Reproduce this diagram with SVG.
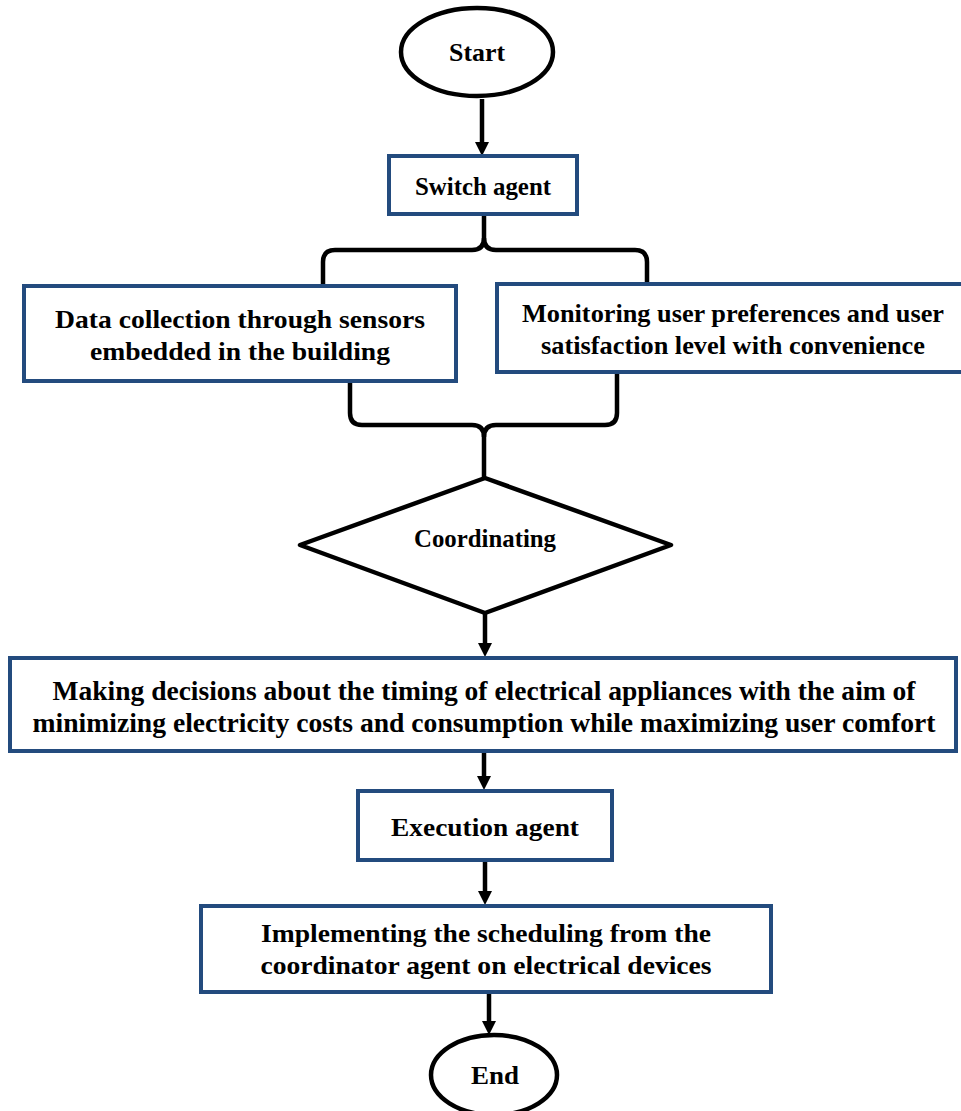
<svg xmlns="http://www.w3.org/2000/svg" width="961" height="1111" viewBox="0 0 961 1111">
<style>
.box{fill:#fff;stroke:#234B7E;stroke-width:4}
.term{fill:#fff;stroke:#000;stroke-width:4.5}
.ln{fill:none;stroke:#000;stroke-width:4.5;stroke-linejoin:round;stroke-linecap:butt}
.t{font-family:'Liberation Serif','Times New Roman',Times,serif;font-weight:700;font-size:25px;fill:#000;text-anchor:middle}
.tall{font-size:28px}
</style>
<rect width="961" height="1111" fill="#fff"/>
<g id="connectors">
<line class="ln" x1="482" y1="99" x2="482" y2="144"/>
<path class="ln" d="M484,216 V238 Q484,250 472,250 H335 Q323,250 323,262 V286"/>
<path class="ln" d="M484,238 Q484,250 496,250 H635 Q647,250 647,262 V284"/>
<path class="ln" d="M350,382 V413 Q350,425 362,425 H472 Q484,425 484,437 V478"/>
<path class="ln" d="M617,373 V413 Q617,425 605,425 H496 Q484,425 484,437"/>
<line class="ln" x1="485" y1="614" x2="485" y2="645"/>
<line class="ln" x1="484" y1="752" x2="484" y2="778"/>
<line class="ln" x1="485" y1="860" x2="485" y2="893"/>
<line class="ln" x1="489" y1="993" x2="489" y2="1023"/>
<path d="M475,142 L489,142 L482,156 Z"/>
<path d="M478,643 L492,643 L485,657 Z"/>
<path d="M477,776 L491,776 L484,790 Z"/>
<path d="M478,891 L492,891 L485,905 Z"/>
<path d="M482,1021 L496,1021 L489,1035 Z"/>
</g>
<g id="start">
<ellipse class="term" cx="477" cy="52" rx="76" ry="44"/>
<text class="t" x="477" y="61" textLength="56" lengthAdjust="spacingAndGlyphs">Start</text>
</g>
<g id="switch-agent">
<rect class="box" x="389" y="156" width="188" height="58"/>
<text class="t" x="483" y="195" textLength="136" lengthAdjust="spacingAndGlyphs">Switch agent</text>
</g>
<g id="data-collection">
<rect class="box" x="24" y="286" width="432" height="95"/>
<text class="t" x="240" y="328" textLength="370" lengthAdjust="spacingAndGlyphs">Data collection through sensors</text>
<text class="t" x="240" y="360" textLength="300" lengthAdjust="spacingAndGlyphs">embedded in the building</text>
</g>
<g id="monitoring">
<rect class="box" x="497" y="284" width="468" height="88"/>
<text class="t" x="733" y="322" textLength="422" lengthAdjust="spacingAndGlyphs">Monitoring user preferences and user</text>
<text class="t" x="733" y="354" textLength="384" lengthAdjust="spacingAndGlyphs">satisfaction level with convenience</text>
</g>
<g id="coordinating">
<polygon class="term" points="485,478 671,545 485,613 300,545" stroke-linejoin="round"/>
<text class="t" x="485" y="547" textLength="142" lengthAdjust="spacingAndGlyphs">Coordinating</text>
</g>
<g id="decisions">
<rect class="box" x="10" y="658" width="946" height="93"/>
<text class="t tall" x="484" y="700" textLength="863" lengthAdjust="spacingAndGlyphs">Making decisions about the timing of electrical appliances with the aim of</text>
<text class="t tall" x="484" y="732" textLength="903" lengthAdjust="spacingAndGlyphs">minimizing electricity costs and consumption while maximizing user comfort</text>
</g>
<g id="execution-agent">
<rect class="box" x="358" y="791" width="254" height="69"/>
<text class="t" x="485" y="836" textLength="188" lengthAdjust="spacingAndGlyphs">Execution agent</text>
</g>
<g id="implementing">
<rect class="box" x="201" y="906" width="570" height="86"/>
<text class="t" x="486" y="942" textLength="450" lengthAdjust="spacingAndGlyphs">Implementing the scheduling from the</text>
<text class="t" x="486" y="974" textLength="451" lengthAdjust="spacingAndGlyphs">coordinator agent on electrical devices</text>
</g>
<g id="end">
<ellipse class="term" cx="494" cy="1075" rx="63" ry="40"/>
<text class="t" x="495" y="1084" textLength="48" lengthAdjust="spacingAndGlyphs">End</text>
</g>
</svg>
